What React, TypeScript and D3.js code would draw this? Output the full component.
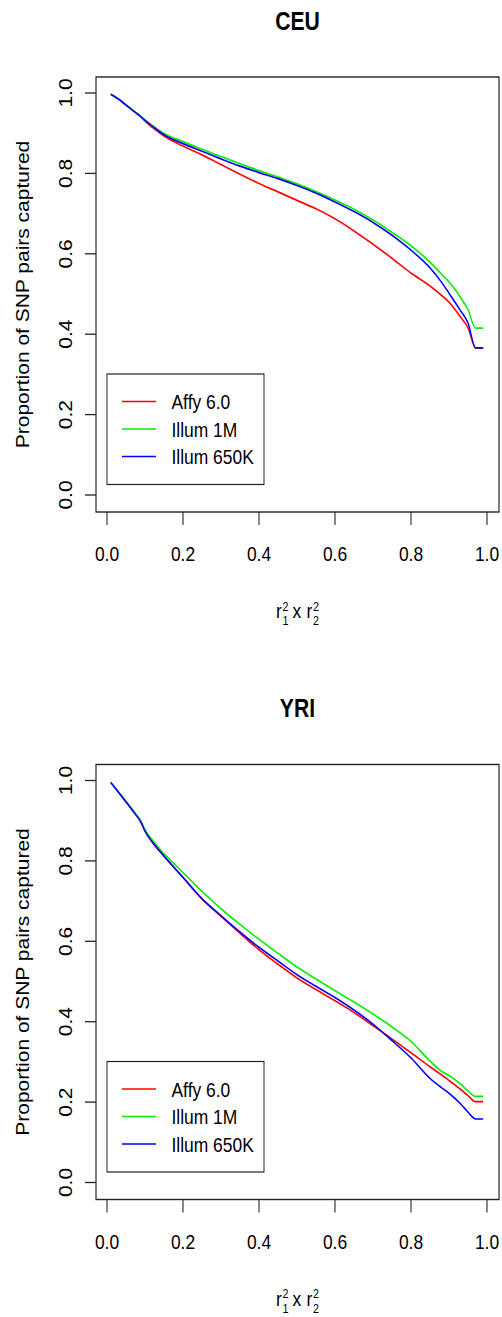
import * as d3 from "d3";
import React from "react";

// r1^2 x r2^2 grid
const r2 = [0.01, 0.03, 0.05, 0.07, 0.09, 0.1, 0.12, 0.15, 0.2, 0.25, 0.3, 0.35, 0.4, 0.45, 0.5, 0.55, 0.6, 0.65, 0.7, 0.75, 0.8, 0.85, 0.88, 0.9, 0.93, 0.95, 0.97, 0.99];

const ceuAffy = [0.997, 0.985, 0.97, 0.955, 0.94, 0.93, 0.914, 0.893, 0.868, 0.846, 0.822, 0.798, 0.775, 0.754, 0.733, 0.712, 0.687, 0.657, 0.624, 0.589, 0.552, 0.52, 0.497, 0.48, 0.443, 0.416, 0.366, 0.366];
const ceuIllum1M = [0.997, 0.985, 0.971, 0.956, 0.941, 0.933, 0.919, 0.899, 0.879, 0.86, 0.842, 0.824, 0.807, 0.791, 0.774, 0.755, 0.734, 0.711, 0.684, 0.653, 0.62, 0.579, 0.55, 0.53, 0.492, 0.461, 0.415, 0.415];
const ceuIllum650 = [0.997, 0.985, 0.97, 0.955, 0.94, 0.932, 0.917, 0.896, 0.874, 0.855, 0.836, 0.818, 0.802, 0.787, 0.77, 0.751, 0.729, 0.705, 0.678, 0.646, 0.609, 0.565, 0.53, 0.502, 0.459, 0.428, 0.366, 0.366];

const yriAffy = [0.995, 0.971, 0.947, 0.922, 0.895, 0.874, 0.845, 0.812, 0.759, 0.705, 0.662, 0.62, 0.579, 0.543, 0.509, 0.48, 0.452, 0.423, 0.39, 0.357, 0.323, 0.288, 0.268, 0.254, 0.232, 0.216, 0.201, 0.201];
const yriIllum1M = [0.995, 0.972, 0.948, 0.924, 0.898, 0.878, 0.851, 0.818, 0.771, 0.724, 0.681, 0.642, 0.605, 0.57, 0.536, 0.506, 0.477, 0.449, 0.419, 0.387, 0.351, 0.302, 0.277, 0.266, 0.245, 0.228, 0.214, 0.214];
const yriIllum650 = [0.995, 0.971, 0.947, 0.922, 0.895, 0.874, 0.846, 0.812, 0.759, 0.706, 0.664, 0.623, 0.585, 0.551, 0.517, 0.488, 0.46, 0.429, 0.394, 0.353, 0.31, 0.259, 0.236, 0.222, 0.196, 0.175, 0.158, 0.158];

const seriesNames = ["Affy 6.0", "Illum 1M", "Illum 650K"];
const seriesColors = ["#ff0000", "#00ee00", "#0000ff"];
const xTicks = [0, 0.2, 0.4, 0.6, 0.8, 1];
const yTicks = [0, 0.2, 0.4, 0.6, 0.8, 1];

// whole picture looks squeezed horizontally, so draw wider and scale x down
const sx = 0.83;
const px = (v: number) => v / sx;
const font = "'Liberation Sans', Arial, sans-serif";

function Panel({ title, top, data }: { title: string; top: number; data: number[][] }) {
  const x = d3.scaleLinear().domain([0, 1]).range([px(107), px(487)]);
  const y = d3.scaleLinear().domain([0, 1]).range([top + 418, top + 16]);
  const box = { x0: px(96), x1: px(499), y0: top, y1: top + 435 };
  const line = d3
    .line<number>()
    .x((_, i) => x(r2[i]))
    .y((d) => y(d))
    .curve(d3.curveMonotoneX);

  const legX = px(107);
  const legY = top + 297;
  const rowY = (i: number) => legY + 27.5 + i * 27.5;

  return (
    <g>
      <text x={(box.x0 + box.x1) / 2} y={top - 47} textAnchor="middle" fontWeight="bold" fontSize={25.5} fontFamily={font}>
        {title}
      </text>
      {data.map((d, i) => (
        <path key={i} d={line(d) || ""} fill="none" stroke={seriesColors[i]} strokeWidth={1.7} />
      ))}
      <rect x={box.x0} y={box.y0} width={box.x1 - box.x0} height={box.y1 - box.y0} fill="none" stroke="#222" strokeWidth={1.4} />
      {yTicks.map((t) => (
        <g key={"y" + t}>
          <line x1={px(85)} x2={box.x0} y1={y(t)} y2={y(t)} stroke="#222" strokeWidth={1.3} />
          <text transform={`translate(${px(72)},${y(t)}) rotate(-90)`} textAnchor="middle" fontSize={21} fontFamily={font}>
            {d3.format(".1f")(t)}
          </text>
        </g>
      ))}
      {xTicks.map((t) => (
        <g key={"x" + t}>
          <line x1={x(t)} x2={x(t)} y1={box.y1} y2={box.y1 + 13} stroke="#222" strokeWidth={1.3} />
          <text x={x(t)} y={top + 484.5} textAnchor="middle" fontSize={21} fontFamily={font}>
            {d3.format(".1f")(t)}
          </text>
        </g>
      ))}
      <text transform={`translate(${px(29)},${(box.y0 + box.y1) / 2}) rotate(-90)`} textAnchor="middle" fontSize={21} fontFamily={font}>
        Proportion of SNP pairs captured
      </text>
      <g fontFamily={font}>
        <text x={px(276)} y={top + 541.5} fontSize={21}>r</text>
        <text x={px(282.5)} y={top + 534} fontSize={13}>2</text>
        <text x={px(282.5)} y={top + 548.5} fontSize={13}>1</text>
        <text x={px(292.5)} y={top + 541.5} fontSize={21}>x</text>
        <text x={px(306.5)} y={top + 541.5} fontSize={21}>r</text>
        <text x={px(313)} y={top + 534} fontSize={13}>2</text>
        <text x={px(313)} y={top + 548.5} fontSize={13}>2</text>
      </g>
      <rect x={legX} y={legY} width={px(264) - legX} height={110.5} fill="white" stroke="#222" strokeWidth={1.2} />
      {seriesNames.map((name, i) => (
        <g key={name}>
          <line x1={px(122)} x2={px(156)} y1={rowY(i)} y2={rowY(i)} stroke={seriesColors[i]} strokeWidth={1.7} />
          <text x={px(171.5)} y={rowY(i) + 8} fontSize={21} fontFamily={font}>
            {name}
          </text>
        </g>
      ))}
    </g>
  );
}

export default function App() {
  return (
    <svg width={502} height={1317} style={{ position: "absolute", left: 0, top: 0, background: "white" }}>
      <g transform={`scale(${sx},1)`}>
        <Panel title="CEU" top={77} data={[ceuAffy, ceuIllum1M, ceuIllum650]} />
        <Panel title="YRI" top={764.5} data={[yriAffy, yriIllum1M, yriIllum650]} />
      </g>
    </svg>
  );
}
